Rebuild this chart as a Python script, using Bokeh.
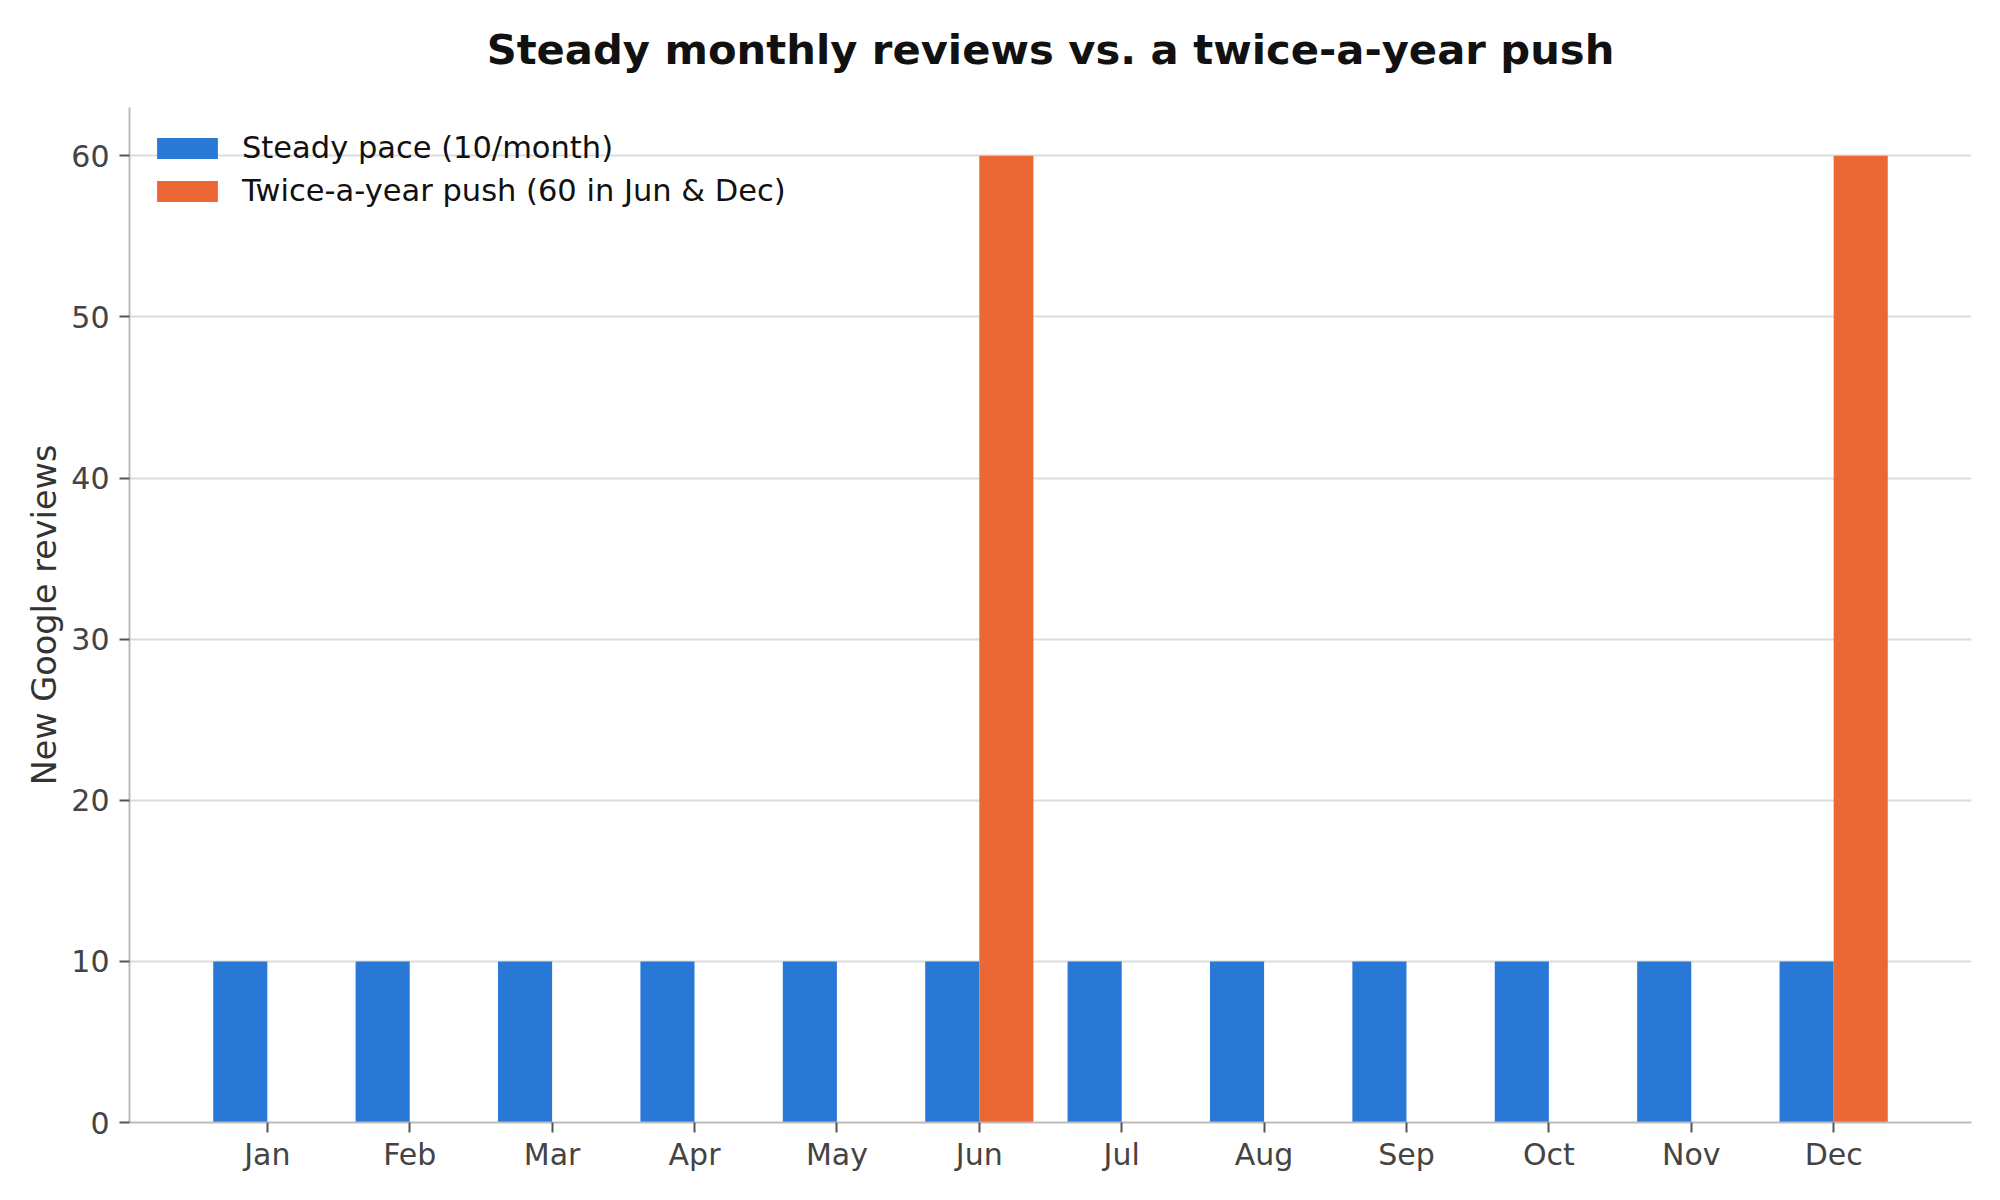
from bokeh.plotting import figure
from bokeh.models import FixedTicker, Range1d, ColumnDataSource, Legend, LegendItem, Title
from bokeh.transform import dodge
from bokeh.embed import file_html
from bokeh.resources import INLINE

months = ["Jan", "Feb", "Mar", "Apr", "May", "Jun", "Jul", "Aug", "Sep", "Oct", "Nov", "Dec"]
steady = [10, 10, 10, 10, 10, 10, 10, 10, 10, 10, 10, 10]
push = [0, 0, 0, 0, 0, 60, 0, 0, 0, 0, 0, 60]
idx = list(range(len(months)))

BLUE = "#2A78D6"
ORANGE = "#EB6835"
FONT = "DejaVu Sans"
BAR_W = 0.38

src = ColumnDataSource(dict(x=idx, month=months, steady=steady, push=push))

p = figure(width=1984, height=1184, output_backend="svg", toolbar_location=None,
           x_range=Range1d(-0.968, 11.968), y_range=Range1d(0, 63),
           min_border_left=129, min_border_right=13, min_border_top=107, min_border_bottom=62,
           title="Steady monthly reviews vs. a twice-a-year push")

r1 = p.vbar(x=dodge("x", -BAR_W / 2), top="steady", width=BAR_W, source=src,
            fill_color=BLUE, line_color=None)
r2 = p.vbar(x=dodge("x", BAR_W / 2), top="push", width=BAR_W, source=src,
            fill_color=ORANGE, line_color=None)

p.title.text_font = FONT
p.title.text_font_size = "41.7px"
p.title.text_font_style = "bold"
p.title.text_color = "#111111"
p.title.align = "center"
p.title.standoff = 10

# invisible spacer between title and plot frame
p.add_layout(Title(text=" ", text_font_size="1px", standoff=26), "above")

p.outline_line_color = None
p.background_fill_color = "white"
p.xgrid.grid_line_color = None
p.ygrid.grid_line_color = "#dcdcdc"
p.ygrid.grid_line_width = 2

p.xaxis.ticker = FixedTicker(ticks=idx)
p.xaxis.major_label_overrides = {i: m for i, m in zip(idx, months)}
p.yaxis.ticker = FixedTicker(ticks=[0, 10, 20, 30, 40, 50, 60])

for ax in (p.xaxis[0], p.yaxis[0]):
    ax.axis_line_color = "#bbbbbb"
    ax.axis_line_width = 2
    ax.major_tick_line_color = "#555555"
    ax.major_tick_line_width = 2
    ax.major_tick_in = 0
    ax.major_tick_out = 10
    ax.minor_tick_line_color = None
    ax.major_label_text_font = FONT
    ax.major_label_text_font_size = "30px"
    ax.major_label_text_color = "#444444"
    ax.major_label_standoff = 10
p.xaxis.major_label_standoff = 4

p.yaxis.axis_label = "New Google reviews"
p.yaxis.axis_label_text_font = FONT
p.yaxis.axis_label_text_font_size = "33.5px"
p.yaxis.axis_label_text_font_style = "normal"
p.yaxis.axis_label_text_color = "#333333"
p.yaxis.axis_label_standoff = 4

legend = Legend(items=[LegendItem(label="Steady pace (10/month)", renderers=[r1]),
                       LegendItem(label="Twice-a-year push (60 in Jun & Dec)", renderers=[r2])],
                location="top_left", margin=0,
                padding=dict(left=20, right=20, top=23, bottom=20), spacing=8,
                glyph_width=76, glyph_height=26, label_standoff=17, label_height=21,
                label_text_font=FONT, label_text_font_size="30.5px", label_text_color="#111111",
                border_line_alpha=0, background_fill_alpha=0)
p.add_layout(legend)

open("out.html", "w").write(file_html(p, INLINE))
